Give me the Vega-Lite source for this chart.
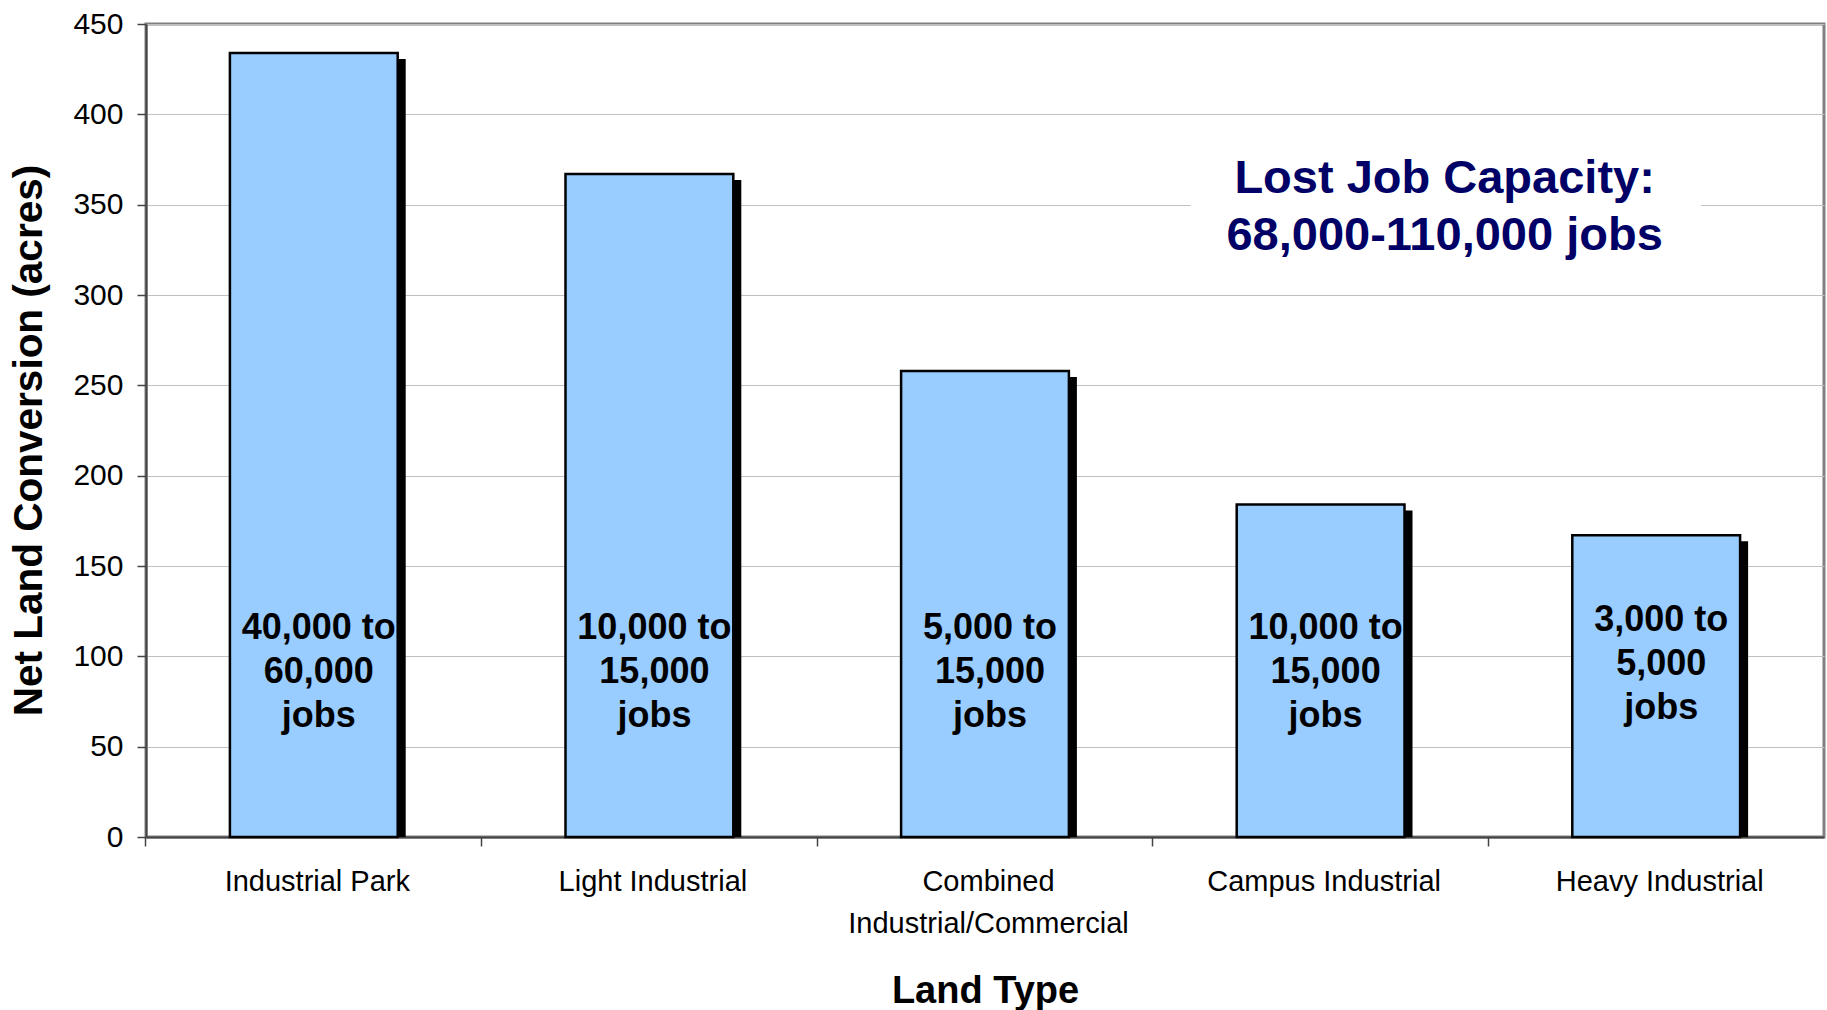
{
  "$schema": "https://vega.github.io/schema/vega-lite/v6.json",
  "autosize": {"type": "none"},
  "padding": {"left": 146, "top": 24, "right": 3, "bottom": 173},
  "width": 1678,
  "height": 813,
  "background": "white",
  "config": {
    "font": "Liberation Sans",
    "view": {"stroke": "#808080", "strokeWidth": 3},
    "axis": {
      "labelFont": "Liberation Sans",
      "titleFont": "Liberation Sans",
      "labelColor": "black",
      "titleColor": "black",
      "domainColor": "#444444",
      "domainWidth": 2,
      "tickColor": "#444444",
      "tickWidth": 1.5,
      "tickSize": 9
    }
  },
  "data": {
    "values": [
      {"land": "Industrial Park", "acres": 434, "jobs": ["40,000 to", "60,000", "jobs"]},
      {"land": "Light Industrial", "acres": 367, "jobs": ["10,000 to", "15,000", "jobs"]},
      {"land": "Combined Industrial/Commercial", "acres": 258, "jobs": ["5,000 to", "15,000", "jobs"]},
      {"land": "Campus Industrial", "acres": 184, "jobs": ["10,000 to", "15,000", "jobs"]},
      {"land": "Heavy Industrial", "acres": 167, "jobs": ["3,000 to", "5,000", "jobs"]}
    ]
  },
  "encoding": {
    "x": {
      "field": "land",
      "type": "nominal",
      "sort": null,
      "scale": {"paddingInner": 0.5, "paddingOuter": 0.25},
      "axis": {
        "title": "Land Type",
        "titleFontSize": 38,
        "titleFontWeight": "bold",
        "titlePadding": 34,
        "labelFontSize": 29,
        "labelAngle": 0,
        "labelPadding": 21,
        "labelOffset": 3.5,
        "labelLineHeight": 42,
        "labelLimit": 0,
        "labelExpr": "datum.label == 'Combined Industrial/Commercial' ? ['Combined', 'Industrial/Commercial'] : datum.label",
        "bandPosition": -0.5,
        "ticks": true,
        "grid": false
      }
    }
  },
  "layer": [
    {
      "mark": {"type": "bar", "color": "black", "xOffset": 8, "yOffset": 6, "y2Offset": 0},
      "encoding": {
        "y": {
          "field": "acres",
          "type": "quantitative",
          "scale": {"domain": [0, 450], "nice": false},
          "axis": {
            "title": "Net Land Conversion (acres)",
            "titleFontSize": 40.5,
            "titleFontWeight": "bold",
            "titlePadding": 22,
            "titleY": 416,
            "labelFontSize": 30,
            "labelPadding": 14,
            "values": [0, 50, 100, 150, 200, 250, 300, 350, 400, 450],
            "gridColor": "#C0C0C0",
            "gridWidth": 1.2
          }
        },
        "y2": {"datum": 0}
      }
    },
    {
      "mark": {"type": "bar", "fill": "#99CCFF", "stroke": "black", "strokeWidth": 2.5},
      "encoding": {
        "y": {"field": "acres", "type": "quantitative"}
      }
    },
    {
      "transform": [{"filter": "datum.land != 'Heavy Industrial'"}],
      "mark": {"type": "text", "fontSize": 36, "fontWeight": "bold", "color": "black", "baseline": "alphabetic", "align": "center", "lineHeight": 44, "dx": 5},
      "encoding": {
        "y": {"datum": 109.8},
        "text": {"field": "jobs"}
      }
    },
    {
      "transform": [{"filter": "datum.land == 'Heavy Industrial'"}],
      "mark": {"type": "text", "fontSize": 36, "fontWeight": "bold", "color": "black", "baseline": "alphabetic", "align": "center", "lineHeight": 44, "dx": 5},
      "encoding": {
        "y": {"datum": 113.8},
        "text": {"field": "jobs"}
      }
    },
    {
      "data": {"values": [{"a": 1}]},
      "mark": {"type": "rect", "fill": "white", "xOffset": -46, "x2Offset": -39},
      "encoding": {
        "x": {"datum": "Campus Industrial", "bandPosition": 0},
        "x2": {"datum": "Heavy Industrial", "bandPosition": 1},
        "y": {"datum": 318},
        "y2": {"datum": 388}
      }
    },
    {
      "data": {"values": [{"note": ["Lost Job Capacity:", "68,000-110,000 jobs"]}]},
      "mark": {"type": "text", "fontSize": 47, "fontWeight": "bold", "color": "#000066", "baseline": "alphabetic", "align": "center", "lineHeight": 57, "dx": 124},
      "encoding": {
        "x": {"datum": "Campus Industrial"},
        "y": {"datum": 356.4},
        "text": {"field": "note"}
      }
    }
  ]
}
